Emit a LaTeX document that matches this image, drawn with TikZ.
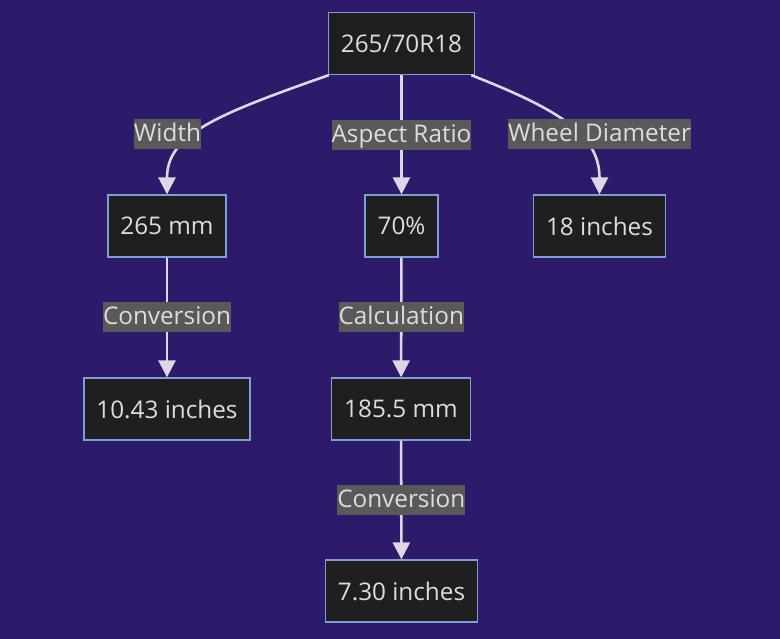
\documentclass[tikz,border=0pt]{standalone}
\usepackage{fontspec}
\setmainfont{Open Sans}
\usetikzlibrary{arrows.meta}
\definecolor{bgpurple}{RGB}{45,26,107}
\definecolor{boxfill}{RGB}{31,31,31}
\definecolor{boxline}{RGB}{122,160,214}
\definecolor{txt}{RGB}{221,221,221}
\definecolor{lblfill}{RGB}{89,89,89}
\definecolor{wire}{RGB}{221,216,230}

\begin{document}
\begin{tikzpicture}[x=1pt, y=-1pt,
  box/.style={draw=boxline, line width=1.3pt, fill=boxfill, text=txt,
    minimum height=62pt, inner xsep=12.5pt, font=\fontsize{24.3}{28}\selectfont},
  lbl/.style={fill=lblfill, text=txt, inner xsep=0pt, inner ysep=3pt,
    text height=19.5pt, text depth=4.5pt, font=\fontsize{24.3}{28}\selectfont},
  edge/.style={draw=wire, line width=2.6pt, -{Triangle[width=17pt,length=17pt]}}]
\fill[bgpurple] (0,0) rectangle (780,639);
\useasboundingbox (0,0) rectangle (780,639);
\node[box] (tire) at (401.5,43.5) {265/70R18};
\node[box] (width) at (167,226) {265 mm};
\node[box] (ratio) at (401.5,226) {70\%};
\node[box] (rim) at (599.5,226) {18 inches};
\node[box] (widthin) at (167,409) {10.43 inches};
\node[box] (wall) at (401,409) {185.5 mm};
\node[box] (wallin) at (401.5,591) {7.30 inches};
\draw[edge] ([xshift=1pt]tire.south west) .. controls (215,115) and (167,135) .. (width.north);
\draw[edge] ([xshift=-4pt]tire.south east) .. controls (560,110) and (599.5,135) .. (rim.north);
\node[lbl] (lw) at (167.5,134) {Width};
\node[lbl] (ld) at (599.5,134) {Wheel Diameter};
\draw[edge] (tire) -- node[lbl] {Aspect Ratio} (ratio);
\draw[edge] (width) -- node[lbl] {Conversion} (widthin);
\draw[edge] (ratio) -- node[lbl] {Calculation} (wall);
\draw[edge] (wall) -- node[lbl] {Conversion} (wallin);
\end{tikzpicture}
\end{document}
